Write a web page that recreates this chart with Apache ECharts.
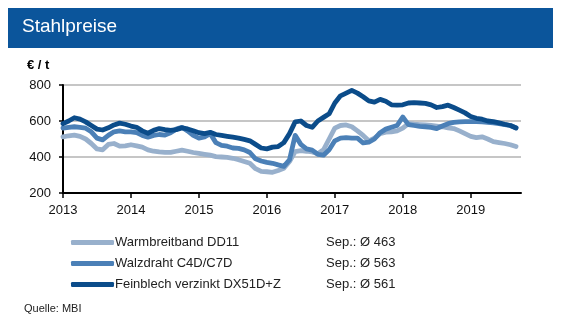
<!DOCTYPE html>
<html>
<head>
<meta charset="utf-8">
<script src="https://cdn.jsdelivr.net/npm/echarts@6/dist/echarts.min.js"></script>
<style>
html,body{margin:0;padding:0;background:#fff;}
#c{width:562px;height:325px;}
</style>
</head>
<body>
<div id="c"></div>
<script>
// Monthly values, Jan 2013 .. Sep 2019
var startYear = 2013;
var seriesNames = ['Warmbreitband DD11', 'Walzdraht C4D/C7D', 'Feinblech verzinkt DX51D+Z'];
var sepAvg = ['463', '563', '561'];
var warmbreitband = [512,518,522,515,500,475,445,440,470,475,460,462,
  468,462,455,440,432,428,426,426,432,438,432,425,
  420,415,410,402,400,398,393,385,375,365,335,320,
  318,315,325,337,375,430,435,432,428,418,440,500,
  560,575,578,568,545,520,490,505,530,538,540,545,
  560,585,582,580,578,575,572,568,562,558,545,530,
  515,508,512,500,485,480,475,468,458];
var walzdraht = [560,565,568,565,560,540,505,495,520,540,545,540,
  540,535,520,510,520,525,522,535,555,565,545,520,
  505,512,530,480,465,460,450,448,440,425,390,378,
  370,365,356,348,385,520,470,445,438,415,410,440,
  490,505,508,505,505,478,482,500,535,555,565,575,
  622,580,575,570,568,565,558,572,585,592,595,597,
  597,596,595,593,590,585,580,575,563];
var feinblech = [585,600,618,610,595,575,555,550,562,578,588,582,
  572,565,545,532,548,558,552,548,552,562,556,546,
  535,530,537,525,520,515,510,505,498,490,470,450,
  445,455,458,480,530,595,600,575,565,600,620,640,
  700,740,755,770,755,735,712,705,720,710,690,688,
  690,700,702,700,698,690,675,680,688,675,660,645,
  625,615,610,600,597,590,582,575,561];
var yTicks = [200, 400, 600, 800];
var colors = ['#98b0cc', '#4b80b7', '#0b4c8a'];

function toPairs(arr){
  return arr.map(function(v,i){ return [startYear + i/12, v]; });
}
var dataSets = [warmbreitband, walzdraht, feinblech];

var chart = echarts.init(document.getElementById('c'), null, {renderer:'canvas'});
var font = 'Arial, "Liberation Sans", sans-serif';

var series = dataSets.map(function(d, k){
  return {
    name: seriesNames[k],
    type: 'line',
    data: toPairs(d),
    showSymbol: false,
    smooth: false,
    lineStyle: {color: colors[k], width: 4.8, cap: 'round', join: 'round'},
    itemStyle: {color: colors[k]},
    z: 2 + k,
    animation: false
  };
});

chart.setOption({
  animation: false,
  backgroundColor: '#fff',
  grid: {left: 63, right: 41, top: 85, height: 108},
  xAxis: {
    type: 'value',
    min: 2013, max: 2019.74, interval: 1,
    axisLine: {show: true, lineStyle: {color: '#000', width: 2}},
    axisTick: {show: true, length: 5, lineStyle: {color: '#000', width: 1.5}},
    axisLabel: {color: '#111', fontSize: 13, fontFamily: font, margin: 11,
      formatter: function(v){ return Math.round(v) === v ? String(v) : ''; },
      showMaxLabel: false},
    splitLine: {show: false}
  },
  yAxis: {
    type: 'value',
    min: yTicks[0], max: yTicks[yTicks.length-1], interval: 200,
    axisLine: {show: true, lineStyle: {color: '#000', width: 2}},
    axisTick: {show: true, length: 4, lineStyle: {color: '#000', width: 1.5}},
    axisLabel: {color: '#111', fontSize: 13, fontFamily: font, margin: 12},
    splitLine: {show: true, lineStyle: {color: '#b3b3b3', width: 1.5}}
  },
  legend: {
    orient: 'vertical',
    left: 66, top: 231,
    itemWidth: 43, itemHeight: 5,
    itemGap: 8,
    icon: 'roundRect',
    selectedMode: false,
    data: seriesNames,
    formatter: function(name){
      var i = seriesNames.indexOf(name);
      return '{a|' + name + '}{b|Sep.: Ø ' + sepAvg[i] + '}';
    },
    textStyle: {
      padding: [0,0,0,-4],
      rich: {
        a: {width: 211, fontSize: 13, fontFamily: font, color: '#222'},
        b: {fontSize: 13, fontFamily: font, color: '#222'}
      }
    }
  },
  graphic: [
    {type: 'rect', shape: {x: 8, y: 8, width: 545, height: 40}, style: {fill: '#0b559b'}},
    {type: 'text', left: 22, top: 17, style: {text: 'Stahlpreise', fill: '#fff', fontSize: 19, fontFamily: font}},
    {type: 'text', left: 27, top: 59, style: {text: '€ / t', fill: '#000', fontSize: 13, fontWeight: 'bold', fontFamily: font}},
    {type: 'text', left: 24, top: 303, style: {text: 'Quelle: MBI', fill: '#222', fontSize: 11, fontFamily: font}}
  ],
  series: series
});
</script>
</body>
</html>
